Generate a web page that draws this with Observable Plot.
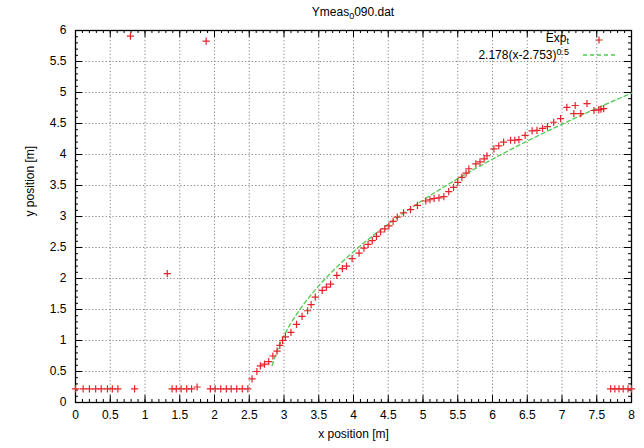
<!DOCTYPE html>
<html><head><meta charset="utf-8">
<script src="https://cdn.jsdelivr.net/npm/d3@7"></script>
<script src="https://cdn.jsdelivr.net/npm/@observablehq/plot@0.6"></script>
<style>
body{margin:0;background:#fff}
svg{font-family:"Liberation Sans",Arial,Helvetica,sans-serif}
</style>
</head><body><div id="chart"></div>
<script>
// ---- data ----
const titleMain = "Ymeas", titleSub = "0", titleRest = "090.dat";
const xLabel = "x position [m]";
const yLabel = "y position [m]";
const legendExp = "Exp", legendExpSub = "t";
const legendFit = "2.178(x-2.753)", legendFitSup = "0.5";
const fitA = 2.178, fitB = 2.753;   // fit: a*(x-b)^0.5
const fitSamples = 100;             // gnuplot default sampling over x range

const xTicks = [0,0.5,1,1.5,2,2.5,3,3.5,4,4.5,5,5.5,6,6.5,7,7.5,8];
const yTicks = [0,0.5,1,1.5,2,2.5,3,3.5,4,4.5,5,5.5,6];

const expX = [0,0.11,0.2,0.29,0.37,0.46,0.53,0.61,
  0.85,
  1.39,1.45,1.52,1.60,1.67,1.75,
  1.94,2.01,2.09,2.17,2.24,2.32,2.40,2.48,
  2.54,2.61,2.66,2.72,2.78,2.84,2.90,2.94,2.98,3.02,3.10,3.18,3.26,3.34,3.39,3.45,3.55,3.61,3.67,3.76,3.84,3.90,3.98,
  4.08,4.15,4.21,4.27,4.33,4.39,4.45,4.51,4.57,4.63,4.72,4.82,4.92,5.04,5.10,5.16,5.23,5.30,5.37,5.44,5.50,5.56,5.62,5.66,
  5.76,5.82,5.88,5.92,6.02,6.09,6.16,6.26,6.32,6.38,6.47,6.57,6.64,6.72,6.79,6.88,6.98,7.07,7.17,7.19,7.27,7.36,7.46,7.53,7.56,7.60,
  7.70,7.76,7.82,7.88,7.95,8.0,
  0.79,1.88,1.32];
const expY = [0.22,0.22,0.22,0.22,0.22,0.22,0.22,0.22,
  0.22,
  0.22,0.22,0.22,0.22,0.22,0.25,
  0.22,0.22,0.22,0.22,0.22,0.22,0.22,0.22,
  0.38,0.50,0.59,0.62,0.66,0.75,0.83,0.92,1.00,1.06,1.13,1.26,1.39,1.48,1.58,1.70,1.81,1.86,1.91,2.05,2.16,2.20,2.32,
  2.41,2.49,2.55,2.61,2.68,2.75,2.80,2.85,2.92,2.99,3.06,3.11,3.18,3.25,3.27,3.29,3.30,3.32,3.40,3.47,3.55,3.63,3.70,3.77,
  3.85,3.88,3.93,3.98,4.09,4.14,4.20,4.23,4.23,4.24,4.31,4.38,4.39,4.42,4.45,4.52,4.58,4.76,4.66,4.79,4.66,4.82,4.71,4.72,4.73,4.74,
  0.22,0.22,0.22,0.22,0.22,0.22,
  5.91,5.83,2.08];

// ---- build ----
const exp = expX.map((x,i)=>({x, y: expY[i]}));
const fit = d3.range(fitSamples).map(i => i*8/(fitSamples-1))
  .filter(x => x >= fitB).map(x => ({x, y: fitA*Math.sqrt(x-fitB)}));
const xMinor = d3.range(0, 80.5, 1).map(d => d/10);
const yMinor = d3.range(0, 60.5, 1).map(d => d/10);

const W = 644, H = 448, mL = 75, mR = 13, mT = 30, mB = 46;
const pW = W - mL - mR, pH = H - mT - mB;
const red = "#e3242b", green = "#4ecb4e";

const plusSym = {draw(ctx, size){ const r = Math.sqrt(size/Math.PI);
  ctx.moveTo(-r,0); ctx.lineTo(r,0); ctx.moveTo(0,-r); ctx.lineTo(0,r);} };

const gridStyle = {stroke:"#777", strokeOpacity:1, strokeWidth:0.9, strokeDasharray:"1.2,2.2"};
const tk = {stroke:"#000", strokeWidth:1};

const chart = Plot.plot({
  width: W, height: H, marginLeft: mL, marginRight: mR, marginTop: mT, marginBottom: mB,
  x: {domain: [0, 8]}, y: {domain: [0, 6]},
  style: {fontFamily: '"Liberation Sans",Arial,sans-serif', fontSize: "12px", color: "#000", background: "#fff"},
  marks: [
    Plot.gridX(xTicks, gridStyle),
    Plot.gridY(yTicks, gridStyle),
    Plot.ruleX(xMinor, {...tk, insetTop: pH - 3}),
    Plot.ruleX(xMinor, {...tk, insetBottom: pH - 3}),
    Plot.ruleX(xTicks, {...tk, insetTop: pH - 7}),
    Plot.ruleX(xTicks, {...tk, insetBottom: pH - 7}),
    Plot.ruleY(yMinor, {...tk, insetRight: pW - 3}),
    Plot.ruleY(yMinor, {...tk, insetLeft: pW - 3}),
    Plot.ruleY(yTicks, {...tk, insetRight: pW - 7}),
    Plot.ruleY(yTicks, {...tk, insetLeft: pW - 7}),
    Plot.frame({stroke: "#000", strokeWidth: 1.3}),
    Plot.axisX(xTicks, {tickSize: 0, tickPadding: 8, label: null, tickFormat: d => String(d), fontSize: 12}),
    Plot.axisY(yTicks, {tickSize: 0, tickPadding: 9, label: null, tickFormat: d => String(d), fontSize: 12}),
    Plot.text([xLabel], {frameAnchor: "bottom", dy: 35, text: d => d, fontSize: 12}),
    Plot.text([yLabel], {frameAnchor: "left", dx: -45, rotate: -90, text: d => d, fontSize: 12}),
    Plot.line(fit, {x: "x", y: "y", stroke: green, strokeWidth: 1.3, strokeDasharray: "4,3"}),
    Plot.dot(exp, {x: "x", y: "y", symbol: plusSym, r: 3.6, stroke: red, strokeWidth: 1.2, fill: "none"})
  ]
});

const svg = d3.select(chart);
// title
const t = svg.append("text").attr("x", mL + pW/2).attr("y", 16).attr("text-anchor", "middle")
  .attr("font-size", 12).attr("fill", "#000");
t.append("tspan").text(titleMain);
t.append("tspan").attr("dy", 3).attr("font-size", 9).text(titleSub);
t.append("tspan").attr("dy", -3).text(titleRest);
// legend
const lx = 569, kx = 599;
const l1 = svg.append("text").attr("x", lx).attr("y", 42).attr("text-anchor", "end").attr("font-size", 12);
l1.append("tspan").text(legendExp);
l1.append("tspan").attr("dy", 2).attr("font-size", 9).text(legendExpSub);
svg.append("path").attr("d", `M${kx-3.6},40H${kx+3.6}M${kx},${40-3.6}V${40+3.6}`)
  .attr("stroke", red).attr("stroke-width", 1.2).attr("fill", "none");
const l2 = svg.append("text").attr("x", lx).attr("y", 59).attr("text-anchor", "end").attr("font-size", 12);
l2.append("tspan").text(legendFit);
l2.append("tspan").attr("dy", -4).attr("font-size", 9).text(legendFitSup);
svg.append("path").attr("d", `M583,55H615`).attr("stroke", green).attr("stroke-width", 1.3)
  .attr("stroke-dasharray", "4,3").attr("fill", "none");

document.getElementById("chart").appendChild(chart);
</script>
</body></html>
